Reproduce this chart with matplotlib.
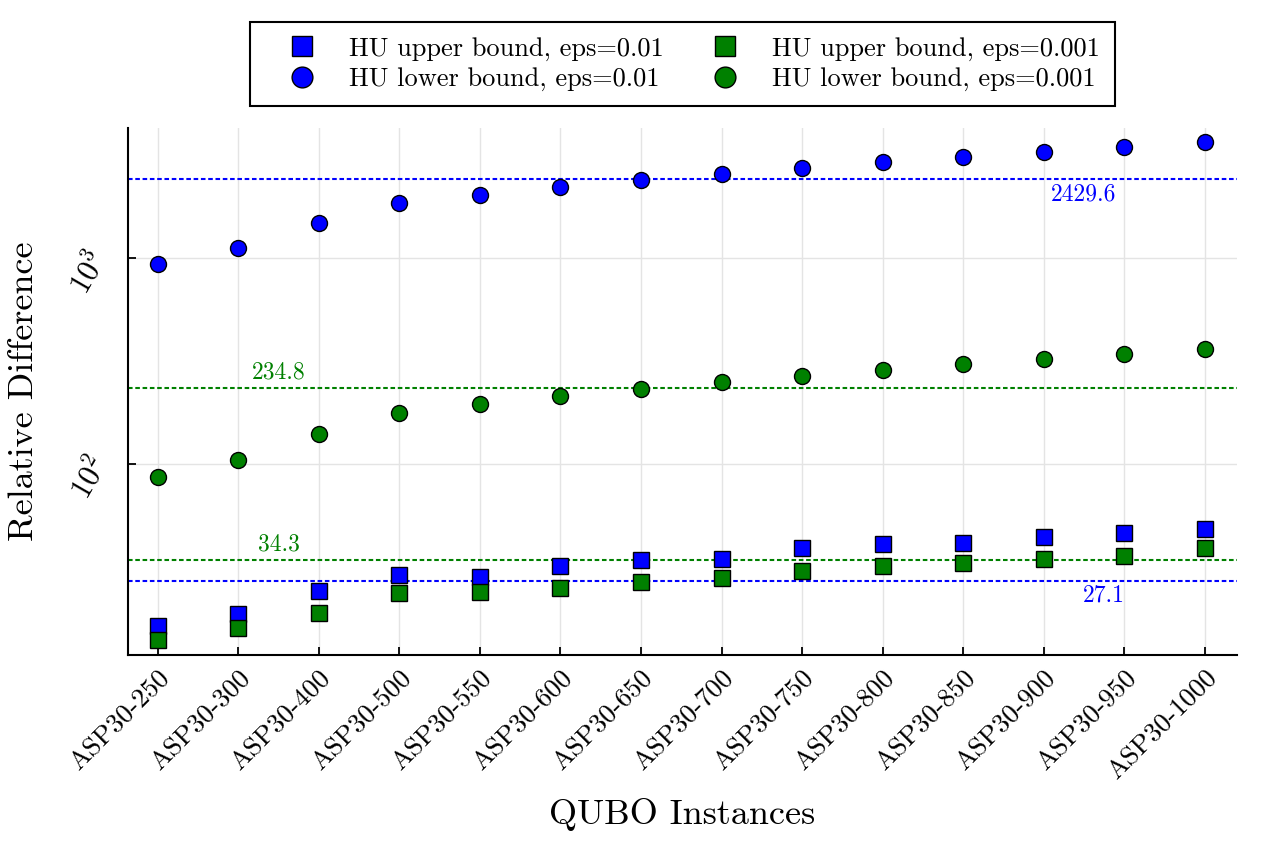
import numpy as np
import matplotlib
matplotlib.use("Agg")
import matplotlib.pyplot as plt
from matplotlib.ticker import LogLocator, NullLocator, LogFormatterMathtext

plt.rcParams['font.family'] = ['cmr10', 'DejaVu Serif']
plt.rcParams['mathtext.fontset'] = 'cm'
plt.rcParams['axes.unicode_minus'] = False
plt.rcParams['axes.formatter.use_mathtext'] = True

# instance names on the x axis
instances = ['ASP30-250', 'ASP30-300', 'ASP30-400', 'ASP30-500', 'ASP30-550',
             'ASP30-600', 'ASP30-650', 'ASP30-700', 'ASP30-750', 'ASP30-800',
             'ASP30-850', 'ASP30-900', 'ASP30-950', 'ASP30-1000']

# values
upper_001 = [16.3, 18.7, 24.1, 28.9, 28.3, 31.8, 34.1, 34.6, 39.1, 40.7, 41.3, 44.3, 46.0, 48.5]
lower_001 = [941, 1126, 1485, 1851, 2025, 2214, 2395, 2578, 2757, 2939, 3118, 3298, 3487, 3664]
upper_0001 = [13.9, 15.9, 18.9, 23.7, 23.9, 25.0, 26.8, 28.0, 30.2, 31.8, 32.9, 34.4, 35.6, 38.9]
lower_0001 = [86.2, 104.6, 140.4, 177.6, 195.7, 214.1, 232.3, 251.2, 268.8, 286.4, 305.3, 324.0, 342.6, 361.2]

# average lines
mean_lower_001 = 2429.6
mean_lower_0001 = 234.8
mean_upper_0001 = 34.3
mean_upper_001 = 27.1

blue = '#0000ff'
green = '#008000'

x = np.arange(len(instances))

fig = plt.figure(figsize=(12.62, 8.42), dpi=100)
ax = fig.add_axes([128/1262, 1-655/842, (1237-128)/1262, (655-128)/842])

ax.set_yscale('log')

ms = 11.5
ax.plot(x, upper_001, 's', color=blue, mec='black', mew=1.0, ms=ms, label='HU upper bound, eps=0.01', zorder=3)
ax.plot(x, lower_001, 'o', color=blue, mec='black', mew=1.0, ms=ms, label='HU lower bound, eps=0.01', zorder=3)
ax.plot(x, upper_0001, 's', color=green, mec='black', mew=1.0, ms=ms, label='HU upper bound, eps=0.001', zorder=3)
ax.plot(x, lower_0001, 'o', color=green, mec='black', mew=1.0, ms=ms, label='HU lower bound, eps=0.001', zorder=3)

dash = (0, (2.2, 1.3))
ax.axhline(mean_lower_001, color=blue, lw=1.5, ls=dash, zorder=2)
ax.axhline(mean_lower_0001, color=green, lw=1.5, ls=dash, zorder=2)
ax.axhline(mean_upper_0001, color=green, lw=1.5, ls=dash, zorder=2)
ax.axhline(mean_upper_001, color=blue, lw=1.5, ls=dash, zorder=2)

ann = 17
ax.annotate(f'{mean_lower_001}', (11.5, mean_lower_001), xytext=(0, -3), textcoords='offset points',
            ha='center', va='top', color=blue, fontsize=ann)
ax.annotate(f'{mean_lower_0001}', (1.5, mean_lower_0001), xytext=(0, 3), textcoords='offset points',
            ha='center', va='bottom', color=green, fontsize=ann)
ax.annotate(f'{mean_upper_0001}', (1.5, mean_upper_0001), xytext=(0, 3), textcoords='offset points',
            ha='center', va='bottom', color=green, fontsize=ann)
ax.annotate(f'{mean_upper_001}', (11.75, mean_upper_001), xytext=(0, -3), textcoords='offset points',
            ha='center', va='top', color=blue, fontsize=ann)

ax.set_xlim(-0.37, 13.4)
ax.set_ylim(11.79, 4300)

ax.set_xticks(x)
ax.set_xticklabels(instances, rotation=45, ha='right', rotation_mode='anchor', fontsize=19.5)
ax.yaxis.set_major_locator(LogLocator(base=10, numticks=10))
ax.yaxis.set_minor_locator(NullLocator())
ax.yaxis.set_major_formatter(LogFormatterMathtext())
for lab in ax.get_yticklabels():
    lab.set_rotation(60)
    lab.set_fontsize(22)

ax.tick_params(axis='both', direction='in', length=6, width=1.3, color='black')
ax.tick_params(axis='y', pad=10)
ax.tick_params(axis='x', pad=8)

ax.grid(True, color='#e4e4e4', lw=1.0, zorder=0)
ax.set_axisbelow(True)
for side in ['top', 'right']:
    ax.spines[side].set_visible(False)
for side in ['left', 'bottom']:
    ax.spines[side].set_linewidth(1.5)

ax.set_xlabel('QUBO Instances', fontsize=26, labelpad=10)
ax.set_ylabel('Relative Difference', fontsize=26)
ax.yaxis.set_label_coords(-0.079, 0.5)

handles, labels = ax.get_legend_handles_labels()
leg = ax.legend(handles, labels,
                ncol=2, loc='lower center', bbox_to_anchor=(0.5, 1.042), borderaxespad=0,
                fontsize=19, frameon=True, fancybox=False, edgecolor='black',
                framealpha=1, markerscale=1.3, handlelength=2.8, handletextpad=0.38,
                columnspacing=0.95, borderpad=0.55, labelspacing=0.25)
leg.get_frame().set_linewidth(1.5)

plt.savefig('out.png', dpi=100)
